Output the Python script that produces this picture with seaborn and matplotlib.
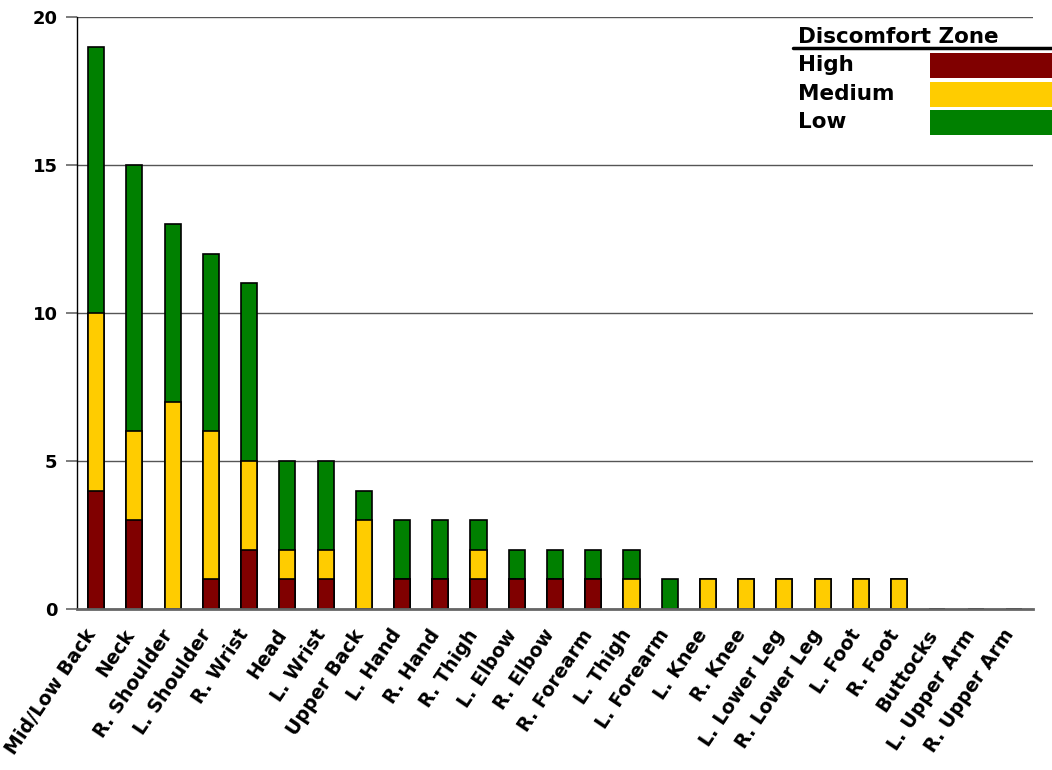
import matplotlib
matplotlib.use("Agg")
import numpy as np
import pandas as pd
import matplotlib.pyplot as plt
import seaborn as sns
from matplotlib.patches import Rectangle
from matplotlib.lines import Line2D

# Body regions and the number of reports in each discomfort zone
regions = ["Mid/Low Back", "Neck", "R. Shoulder", "L. Shoulder", "R. Wrist", "Head",
           "L. Wrist", "Upper Back", "L. Hand", "R. Hand", "R. Thigh", "L. Elbow",
           "R. Elbow", "R. Forearm", "L. Thigh", "L. Forearm", "L. Knee", "R. Knee",
           "L. Lower Leg", "R. Lower Leg", "L. Foot", "R. Foot", "Buttocks",
           "L. Upper Arm", "R. Upper Arm"]
high = [4, 3, 0, 1, 2, 1, 1, 0, 1, 1, 1, 1, 1, 1, 0, 0, 0, 0, 0, 0, 0, 0, 0, 0, 0]
medium = [6, 3, 7, 5, 3, 1, 1, 3, 0, 0, 1, 0, 0, 0, 1, 0, 1, 1, 1, 1, 1, 1, 0, 0, 0]
low = [9, 9, 6, 6, 6, 3, 3, 1, 2, 2, 1, 1, 1, 1, 1, 1, 0, 0, 0, 0, 0, 0, 0, 0, 0]

zones = ["High", "Medium", "Low"]
zone_colors = ["#800000", "#FFCC00", "#008000"]
y_ticks = [0, 5, 10, 15, 20]
legend_title = "Discomfort Zone"

sns.set_theme(style="white")
plt.rcParams["font.family"] = ["DejaVu Sans"]
plt.rcParams["text.color"] = "black"
plt.rcParams["xtick.color"] = "black"
plt.rcParams["ytick.color"] = "black"

W, H = 1052, 770
fig = plt.figure(figsize=(W / 100, H / 100), dpi=100)
ax = fig.add_axes([77 / W, 1 - 609 / H, (1033 - 77) / W, (609 - 17) / H])

df = pd.DataFrame({"region": regions, "High": high, "Medium": medium, "Low": low})
df["High+Medium"] = df["High"] + df["Medium"]
df["Total"] = df["High+Medium"] + df["Low"]

# Stack by overlaying cumulative totals, tallest first
for col, color in [("Total", zone_colors[2]), ("High+Medium", zone_colors[1]), ("High", zone_colors[0])]:
    sns.barplot(data=df, x="region", y=col, color=color, saturation=1, width=0.42,
                edgecolor="black", linewidth=1.2, ax=ax, zorder=2)

ax.set_xlim(-0.5, len(regions) - 0.5)
ax.set_ylim(0, 20)
ax.set_xlabel("")
ax.set_ylabel("")

ax.set_yticks(y_ticks)
ax.set_yticklabels([str(v) for v in y_ticks], fontsize=13, fontweight="bold")
ax.yaxis.grid(True, color="#555555", linewidth=1.0, zorder=0)
ax.set_axisbelow(True)

# Category names drawn as rotated annotations below each bar
ax.set_xticks(range(len(regions)))
ax.set_xticklabels([])
for i, name in enumerate(regions):
    ax.annotate(name, xy=(i, 0), xycoords=("data", "axes fraction"),
                xytext=(-3, -16), textcoords="offset points",
                rotation=56, rotation_mode="anchor", ha="right", va="center",
                fontsize=13.7, fontweight="bold", annotation_clip=False)
ax.set_xticks(np.arange(-0.5, len(regions)), minor=True)
ax.tick_params(axis="x", which="major", length=0)
ax.tick_params(axis="x", which="minor", length=7, width=1.2, color="#666666", direction="out")
ax.tick_params(axis="y", length=8, width=1.2, color="#666666", labelcolor="black",
               direction="out", pad=6, left=True)

for side in ["top", "right"]:
    ax.spines[side].set_visible(False)
ax.spines["left"].set_color("black")
ax.spines["left"].set_linewidth(1.0)
ax.spines["bottom"].set_color("#666666")
ax.spines["bottom"].set_linewidth(2.0)
ax.spines["bottom"].set_zorder(5)

# Legend panel at the top right
fig.patches.append(Rectangle((786 / W, 1 - 140 / H), (W - 786) / W, 115 / H,
                             transform=fig.transFigure, facecolor="white",
                             edgecolor="none", zorder=3))
fig.text(798 / W, 1 - 37 / H, legend_title, fontsize=15.5, fontweight="bold",
         va="center", ha="left", zorder=4)
fig.lines.append(Line2D([793 / W, 1.0], [1 - 48 / H, 1 - 48 / H], transform=fig.transFigure,
                        color="black", linewidth=2.5, zorder=4))
row_centers = [65, 94, 122]
for name, color, yc in zip(zones, zone_colors, row_centers):
    fig.text(798 / W, 1 - yc / H, name, fontsize=15.5, fontweight="bold",
             va="center", ha="left", zorder=4)
    fig.patches.append(Rectangle((930 / W, 1 - (yc + 12.5) / H), (W - 930) / W, 25 / H,
                                 transform=fig.transFigure, facecolor=color,
                                 edgecolor="none", zorder=4))

fig.savefig("out.png", dpi=100)
